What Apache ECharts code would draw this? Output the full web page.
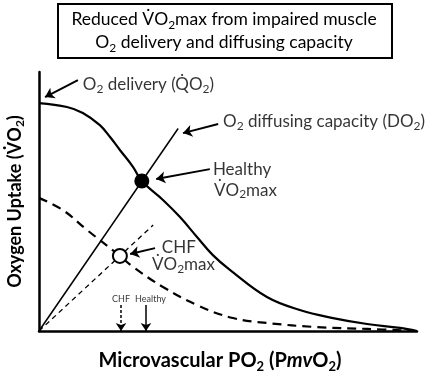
<!DOCTYPE html>
<html>
<head>
<meta charset="utf-8">
<script src="https://cdn.jsdelivr.net/npm/echarts@6/dist/echarts.min.js"></script>
<style>
  html, body { margin: 0; background: #fff; }
  #chart { width: 426px; height: 374px; }
</style>
</head>
<body>
<div id="chart"></div>
<script>
// values, x = PmvO2 (0-100), y = VO2 (0-100), arbitrary units
const deliveryCurve = [
  [0, 88.0], [7.4, 86.5], [11.6, 84.2], [16.1, 79.5], [18.8, 74.9], [21.4, 69.9],
  [24.9, 63.3], [27.2, 57.9], [32.8, 50.6], [37.3, 44.0], [41.8, 36.3], [46.0, 29.3],
  [50.5, 23.6], [60.3, 13.1], [69.0, 8.1], [77.8, 5.0], [86.8, 2.7], [95.5, 1.2], [100, 0]
];
const chfDeliveryCurve = [
  [0, 51.4], [6.3, 46.7], [12.7, 39.0], [21.4, 29.0], [24.9, 24.7], [32.8, 17.0],
  [41.8, 10.0], [51.3, 5.0], [60.3, 3.1], [73.5, 1.5], [86.8, 0.8], [100, 0]
];
const diffusionLine = [[0, 0], [36.8, 78.2]];
const chfDiffusionLine = [[0, 0], [30.2, 40.9]];
const healthyMax = [27.2, 57.9];
const chfMax = [21.4, 29.0];

// annotation arrows: [from, to]
const pointerArrows = [
  [[10.3, 96.9], [1.6, 90.3]],
  [[47.4, 79.9], [38.1, 76.4]],
  [[45.2, 62.5], [31.0, 58.7]],
  [[30.7, 32.0], [24.1, 29.7]]
];
const healthyTick = [[28.3, 10.0], [28.3, 0]];
const chfTick = [[21.7, 10.0], [21.7, 0]];

const sideNotes = [
  { value: [11.6, 95.0], text: 'O{s|2} delivery (Q\u0307O{s|2})' },
  { value: [48.7, 80.7], text: 'O{s|2} diffusing capacity (DO{s|2})' },
  { value: [46.0, 62.2], text: 'Healthy' },
  { value: [46.3, 54.4], text: 'V\u0307O{s|2}max' },
  { value: [32.5, 32.4], text: 'CHF' },
  { value: [29.9, 25.5], text: 'V\u0307O{s|2}max' }
];
const tickNotes = [
  { value: [21.7, 12.4], text: 'CHF' },
  { value: [29.5, 12.4], text: 'Healthy' }
];

const font = 'Lato, "Open Sans", sans-serif';
const subRich = {
  s: { fontSize: 12, lineHeight: 12, verticalAlign: 'bottom', fontFamily: font, color: '#000' }
};

const chart = echarts.init(document.getElementById('chart'));

const series = [
  {
    type: 'line', data: deliveryCurve, smooth: 0.4, symbol: 'none', silent: true,
    lineStyle: { color: '#000', width: 2.2 }
  },
  {
    type: 'line', data: chfDeliveryCurve, smooth: 0.4, symbol: 'none', silent: true,
    lineStyle: { color: '#000', width: 2.2, type: [9, 6] }
  },
  {
    type: 'line', data: diffusionLine, symbol: 'none', silent: true,
    lineStyle: { color: '#000', width: 1.5 }
  },
  {
    type: 'line', data: chfDiffusionLine, symbol: 'none', silent: true,
    lineStyle: { color: '#000', width: 1.3, type: [5, 4] }
  },
  {
    type: 'scatter', data: [healthyMax], symbol: 'circle', symbolSize: 15, silent: true,
    itemStyle: { color: '#000', opacity: 1 }, z: 5
  },
  {
    type: 'scatter', data: [chfMax], symbol: 'circle', symbolSize: 14, silent: true,
    itemStyle: { color: '#fff', borderColor: '#000', borderWidth: 2, opacity: 1 }, z: 5
  }
];

// arrows drawn as lines with an arrow head at the end
pointerArrows.forEach((pair) => {
  series.push({
    type: 'lines', coordinateSystem: 'cartesian2d', silent: true, z: 4,
    symbol: ['none', 'arrow'], symbolSize: 9,
    lineStyle: { color: '#000', width: 2, opacity: 1 },
    data: [{ coords: pair }]
  });
});
series.push({
  type: 'lines', coordinateSystem: 'cartesian2d', silent: true, z: 4,
  symbol: ['none', 'arrow'], symbolSize: 8,
  lineStyle: { color: '#000', width: 1.5, opacity: 1 },
  data: [{ coords: healthyTick }]
});
series.push({
  type: 'lines', coordinateSystem: 'cartesian2d', silent: true, z: 4,
  symbol: ['none', 'arrow'], symbolSize: 8,
  lineStyle: { color: '#000', width: 1.5, opacity: 1, type: [3, 2] },
  data: [{ coords: chfTick }]
});

series.push({
  type: 'scatter', symbolSize: 0, silent: true, z: 6,
  data: sideNotes.map((n) => ({ value: n.value, text: n.text })),
  label: {
    show: true, position: 'right', distance: 0,
    formatter: (p) => p.data.text,
    fontFamily: font, fontSize: 17, lineHeight: 20, color: '#000',
    rich: subRich
  }
});
series.push({
  type: 'scatter', symbolSize: 0, silent: true, z: 6,
  data: tickNotes.map((n) => ({ value: n.value, text: n.text })),
  label: {
    show: true, position: 'inside',
    formatter: (p) => p.data.text,
    fontFamily: font, fontSize: 9, color: '#000'
  }
});

chart.setOption({
  animation: false,
  backgroundColor: '#fff',
  grid: { left: 39, right: 9, top: 72, bottom: 43, containLabel: false, outerBoundsMode: 'none' },
  xAxis: {
    type: 'value', min: 0, max: 100,
    axisLine: { show: true, lineStyle: { color: '#000', width: 2.5 } },
    axisTick: { show: false }, axisLabel: { show: false }, splitLine: { show: false },
    name: 'Microvascular PO{s|2} (P{i|mv}O{s|2})',
    nameLocation: 'middle', nameGap: 18,
    nameTextStyle: {
      fontFamily: font, fontSize: 20, fontWeight: 'bold', color: '#000', lineHeight: 24,
      padding: [0, 16, 0, 0],
      rich: {
        s: { fontSize: 13, lineHeight: 13, fontWeight: 'bold', verticalAlign: 'bottom', fontFamily: font },
        i: { fontSize: 20, fontWeight: 'bold', fontStyle: 'italic', fontFamily: font }
      }
    }
  },
  yAxis: {
    type: 'value', min: 0, max: 100,
    axisLine: { show: true, lineStyle: { color: '#000', width: 2.5 } },
    axisTick: { show: false }, axisLabel: { show: false }, splitLine: { show: false },
    name: 'Oxygen Uptake (V\u0307O{s|2})',
    nameLocation: 'middle', nameGap: 13,
    nameTextStyle: {
      fontFamily: font, fontSize: 18, fontWeight: 'bold', color: '#000', lineHeight: 22,
      rich: {
        s: { fontSize: 12, lineHeight: 12, fontWeight: 'bold', verticalAlign: 'bottom', fontFamily: font }
      }
    }
  },
  graphic: [
    {
      type: 'rect', left: 57, top: 3,
      shape: { width: 334, height: 54 },
      style: { fill: '#fff', stroke: '#000', lineWidth: 2 }
    },
    {
      type: 'text', x: 224, y: 31,
      style: {
        text: 'Reduced V\u0307O{s|2}max from impaired muscle\nO{s|2} delivery and diffusing capacity',
        align: 'center', verticalAlign: 'middle',
        fontFamily: font, fontSize: 17.5, lineHeight: 23, fill: '#000',
        rich: { s: { fontSize: 12, lineHeight: 12, verticalAlign: 'bottom', fontFamily: font, fill: '#000' } }
      }
    }
  ],
  series: series
});
</script>
</body>
</html>
